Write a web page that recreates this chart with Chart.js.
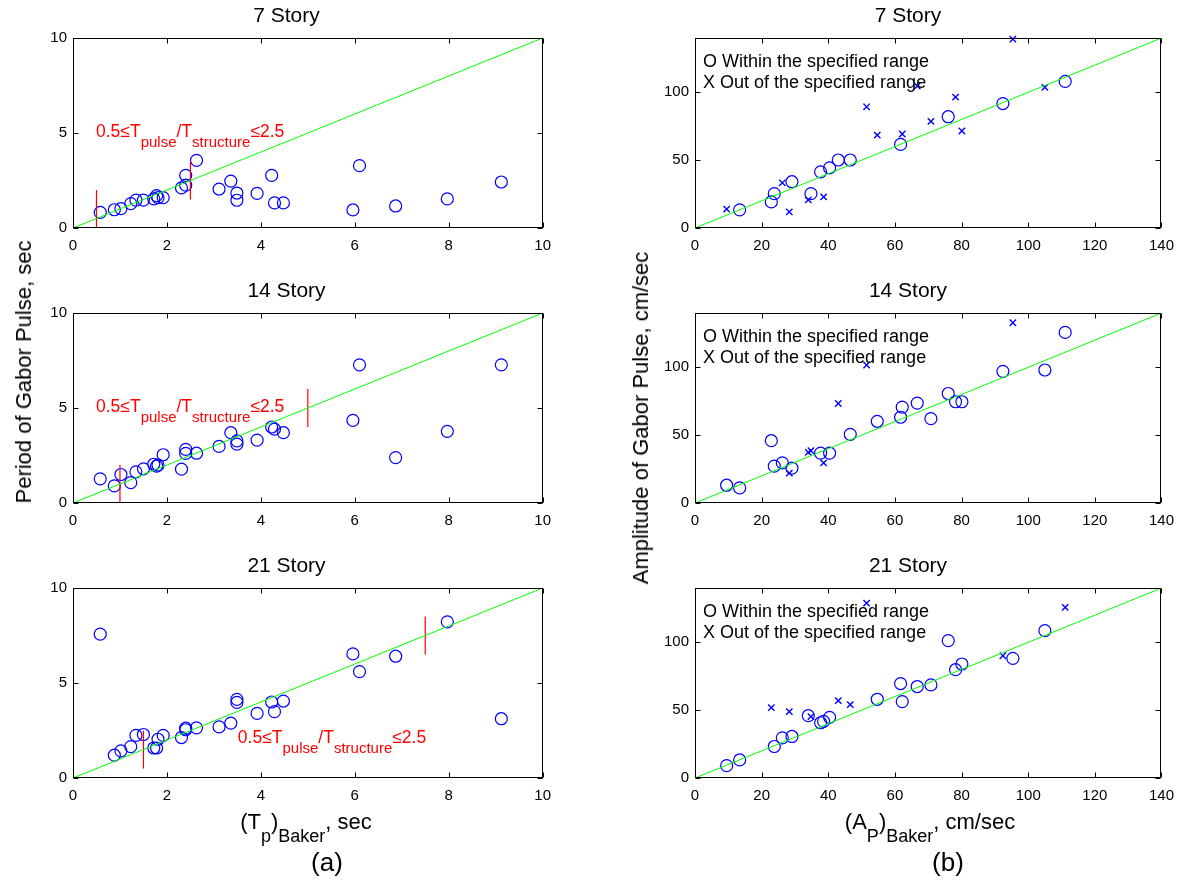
<!DOCTYPE html>
<html>
<head>
<meta charset="utf-8">
<script src="https://cdn.jsdelivr.net/npm/chart.js@4.4.1/dist/chart.umd.min.js"></script>
<style>
  body { margin: 0; background: #fff; width: 1186px; height: 882px; position: relative; overflow: hidden;
         font-family: "Liberation Sans", Arial, sans-serif; color: #000; }
  canvas { position: absolute; }
  .lbl { position: absolute; white-space: nowrap; line-height: 1; }
  .lbl .sb { position: relative; }
</style>
</head>
<body>
<canvas id="c7a" width="532" height="260" style="left:28px;top:0px"></canvas>
<canvas id="c14a" width="532" height="260" style="left:28px;top:275px"></canvas>
<canvas id="c21a" width="532" height="260" style="left:28px;top:550px"></canvas>
<canvas id="c7b" width="535" height="260" style="left:648px;top:0px"></canvas>
<canvas id="c14b" width="535" height="260" style="left:648px;top:275px"></canvas>
<canvas id="c21b" width="535" height="260" style="left:648px;top:550px"></canvas>

<div class="lbl" id="ylA" style="font-size:22px;left:24px;top:372px;transform:translate(-50%,-50%) rotate(-90deg)">Period of Gabor Pulse, sec</div>
<div class="lbl" id="ylB" style="font-size:22px;left:641px;top:418px;transform:translate(-50%,-50%) rotate(-90deg)">Amplitude of Gabor Pulse, cm/sec</div>
<div class="lbl" style="font-size:22px;left:306px;top:811px;transform:translateX(-50%)">(T<span class="sb" style="font-size:18px;top:13px">p</span>)<span class="sb" style="font-size:18px;top:13px">Baker</span>, sec</div>
<div class="lbl" style="font-size:22px;left:930px;top:811px;transform:translateX(-50%)">(A<span class="sb" style="font-size:18px;top:13px">P</span>)<span class="sb" style="font-size:18px;top:13px">Baker</span>, cm/sec</div>
<div class="lbl" style="font-size:26px;left:327px;top:849px;transform:translateX(-50%)">(a)</div>
<div class="lbl" style="font-size:26px;left:948px;top:849px;transform:translateX(-50%)">(b)</div>

<script>
// Baker pulse period vs. Gabor pulse period, sec (same 27 records for each building)
const tpBaker = [0.58, 0.88, 1.02, 1.23, 1.34, 1.50, 1.72, 1.78, 1.81, 1.92, 2.31, 2.40, 2.40, 2.63,
  3.11, 3.36, 3.49, 3.49, 3.92, 4.23, 4.29, 4.48, 5.96, 6.10, 6.87, 7.97, 9.12];
const tGabor7 = [0.82, 0.96, 1.02, 1.28, 1.47, 1.47, 1.53, 1.70, 1.60, 1.60, 2.11, 2.26, 2.77, 3.56,
  2.05, 2.47, 1.84, 1.46, 1.82, 2.77, 1.32, 1.32, 0.95, 3.28, 1.16, 1.53, 2.42];
const tGabor14 = [1.27, 0.90, 1.50, 1.07, 1.64, 1.80, 2.04, 1.94, 2.00, 2.54, 1.78, 2.82, 2.61, 2.62,
  2.98, 3.70, 3.27, 3.10, 3.31, 4.00, 3.89, 3.70, 4.35, 7.27, 2.39, 3.77, 7.27];
const tGabor21 = [7.57, 1.20, 1.43, 1.65, 2.24, 2.29, 1.58, 1.58, 2.04, 2.24, 2.13, 2.62, 2.54, 2.64,
  2.69, 2.89, 4.14, 3.98, 3.40, 4.00, 3.49, 4.05, 6.53, 5.60, 6.41, 8.22, 3.12];

// red bars at T = 0.5*Tstructure and 2.5*Tstructure
const limitT7 = [0.5, 2.5], limitLo7 = [0, 1.5], limitHi7 = [2.0, 3.5];
const limitT14 = [1.0, 5.0], limitLo14 = [0, 4.0], limitHi14 = [2.0, 6.0];
const limitT21 = [1.5, 7.5], limitLo21 = [0.5, 6.5], limitHi21 = [2.5, 8.5];

// Baker pulse amplitude vs. Gabor pulse amplitude, cm/sec
const apBaker = [9.5, 13.4, 22.9, 23.8, 26.2, 28.3, 29.1, 34.0, 34.8, 37.7, 38.6, 40.4, 43.0, 46.6,
  51.5, 54.7, 61.7, 62.2, 66.7, 70.8, 76.0, 78.2, 80.1, 92.4, 95.4, 105.0, 111.1];
const aGabor7 = [13.9, 13.4, 19.2, 25.3, 33.3, 11.9, 34.1, 20.7, 25.3, 41.4, 22.9, 44.3, 50.1, 50.1,
  89.3, 68.4, 61.6, 69.3, 104.6, 78.6, 82.0, 96.4, 71.5, 91.7, 139.2, 103.6, 108.0];
const aGabor14 = [13.1, 11.1, 45.9, 27.2, 29.6, 22.0, 25.7, 37.3, 38.5, 36.8, 29.6, 36.8, 73.3, 50.6,
  101.7, 60.2, 63.2, 70.6, 73.6, 62.2, 80.7, 74.6, 74.6, 97.0, 132.8, 98.0, 125.7];
const aGabor21 = [9.1, 13.3, 51.9, 23.2, 29.6, 48.9, 30.6, 45.9, 45.2, 40.7, 41.7, 44.7, 57.0, 54.1,
  128.9, 58.0, 69.6, 56.3, 67.4, 68.6, 101.2, 79.8, 84.0, 90.1, 88.1, 108.6, 125.7];
// 1 = period ratio inside 0.5..2.5 (circle), 0 = outside (x)
const inRange7 = [0, 1, 1, 1, 0, 0, 1, 0, 1, 1, 0, 1, 1, 1, 0, 0, 1, 0, 0, 0, 1, 0, 0, 1, 0, 0, 1];
const inRange14 = [1, 1, 1, 1, 1, 0, 1, 0, 0, 1, 0, 1, 0, 1, 0, 1, 1, 1, 1, 1, 1, 1, 1, 1, 0, 1, 1];
const inRange21 = [1, 1, 0, 1, 1, 0, 1, 1, 0, 1, 1, 1, 0, 0, 0, 1, 1, 1, 1, 1, 1, 1, 1, 0, 1, 1, 0];

const periodTicksX = [0, 2, 4, 6, 8, 10];
const periodTicksY = [0, 5, 10];
const ampTicksX = [0, 20, 40, 60, 80, 100, 120, 140];
const ampTicksY = [0, 50, 100];

const FONT = '"Liberation Sans", Arial, sans-serif';
const BLUE = '#0000ff', GREEN = '#00ff00', RED = '#ff0000';

// matlab-like box with inward ticks on all four sides, plus text notes
const framePlugin = {
  id: 'frame',
  afterDatasetsDraw(chart, args, opts) {
    const { ctx, chartArea: a, scales } = chart;
    const L = Math.round(a.left) + 0.5, R = Math.round(a.right) - 0.5;
    const T = Math.round(a.top) + 0.5, B = Math.round(a.bottom) - 0.5;
    ctx.save();
    ctx.strokeStyle = '#000';
    ctx.lineWidth = 1;
    ctx.strokeRect(L, T, R - L, B - T);
    ctx.beginPath();
    scales.x.ticks.forEach((t) => {
      const px = Math.round(scales.x.getPixelForValue(t.value)) + 0.5;
      ctx.moveTo(px, B); ctx.lineTo(px, B - 5);
      ctx.moveTo(px, T); ctx.lineTo(px, T + 5);
    });
    scales.y.ticks.forEach((t) => {
      const py = Math.round(scales.y.getPixelForValue(t.value)) + 0.5;
      ctx.moveTo(L, py); ctx.lineTo(L + 5, py);
      ctx.moveTo(R, py); ctx.lineTo(R - 5, py);
    });
    ctx.stroke();

    // ratio note, red, with subscripts
    if (opts.note) {
      const n = opts.note;
      let x = scales.x.getPixelForValue(n.x);
      const y = scales.y.getPixelForValue(n.y);
      ctx.fillStyle = RED;
      ctx.textBaseline = 'alphabetic';
      ctx.textAlign = 'left';
      n.parts.forEach(([txt, sub]) => {
        ctx.font = (sub ? '15px ' : '17.5px ') + FONT;
        ctx.fillText(txt, x, sub ? y + 10 : y);
        x += ctx.measureText(txt).width;
      });
    }
    if (opts.lines) {
      ctx.fillStyle = '#000';
      ctx.font = '18px ' + FONT;
      ctx.textBaseline = 'middle';
      ctx.textAlign = 'left';
      opts.lines.forEach((txt, i) => ctx.fillText(txt, a.left + 8, a.top + 24 + i * 21));
    }
    ctx.restore();
  },
};

function pts(xs, ys, keep) {
  const out = [];
  xs.forEach((x, i) => { if (!keep || keep(i)) out.push({ x: x, y: ys[i] }); });
  return out;
}

function axis(min, max, ticks, size) {
  return {
    type: 'linear',
    min: min,
    max: max,
    grid: { display: false, drawTicks: false },
    border: { display: false },
    ticks: { color: '#000', font: { size: 15, family: FONT }, padding: size.pad, autoSkip: false, maxRotation: 0 },
    afterBuildTicks: (s) => { s.ticks = ticks.map((v) => ({ value: v })); },
    afterFit: (s) => { if (size.h) s.height = size.h; if (size.w) s.width = size.w; },
  };
}

function makeChart(id, title, datasets, xr, yr, yw, frameOpts) {
  return new Chart(document.getElementById(id), {
    type: 'scatter',
    data: { datasets: datasets },
    options: {
      responsive: false,
      animation: false,
      events: [],
      layout: { padding: { left: 0, right: 15, top: 0, bottom: 0 } },
      scales: {
        x: axis(xr[0], xr[1], xr[2], { h: 32, pad: 9 }),
        y: axis(yr[0], yr[1], yr[2], { w: yw, pad: 6 }),
      },
      plugins: {
        legend: { display: false },
        tooltip: { enabled: false },
        title: {
          display: true,
          text: title,
          color: '#000',
          font: { size: 21, family: FONT, weight: 'normal' },
          padding: { top: 4, bottom: 8.8 },
        },
        frame: frameOpts,
      },
    },
    plugins: [framePlugin],
  });
}

function diagonal(max) {
  return { data: [{ x: 0, y: 0 }, { x: max, y: max }], showLine: true, borderColor: GREEN, borderWidth: 1, pointRadius: 0 };
}

function circles(data) {
  return { data: data, pointStyle: 'circle', pointRadius: 6, borderColor: BLUE, backgroundColor: 'rgba(0,0,0,0)', borderWidth: 1.2, clip: false };
}

function crosses(data) {
  return { data: data, pointStyle: 'crossRot', pointRadius: 4.5, borderColor: BLUE, borderWidth: 1.4, clip: false };
}

const noteParts = [['0.5\u2264T', false], ['pulse', true], ['/T', false], ['structure', true], ['\u22642.5', false]];

function periodPanel(id, title, tGabor, lx, lo, hi, notePos) {
  const sets = [diagonal(10)];
  lx.forEach((x, i) => {
    sets.push({ data: [{ x: x, y: lo[i] }, { x: x, y: hi[i] }], showLine: true, borderColor: RED, borderWidth: 1.2, pointRadius: 0 });
  });
  sets.push(circles(pts(tpBaker, tGabor)));
  makeChart(id, title, sets, [0, 10, periodTicksX], [0, 10, periodTicksY], 45,
    { note: { x: notePos[0], y: notePos[1], parts: noteParts } });
}

const rangeLines = ['O Within the specified range', 'X Out of the specified range'];

function ampPanel(id, title, aGabor, inRange) {
  const sets = [
    diagonal(140),
    circles(pts(apBaker, aGabor, (i) => inRange[i] === 1)),
    crosses(pts(apBaker, aGabor, (i) => inRange[i] === 0)),
  ];
  makeChart(id, title, sets, [0, 140, ampTicksX], [0, 140, ampTicksY], 47, { lines: rangeLines });
}

periodPanel('c7a', '7 Story', tGabor7, limitT7, limitLo7, limitHi7, [0.49, 4.79]);
periodPanel('c14a', '14 Story', tGabor14, limitT14, limitLo14, limitHi14, [0.49, 4.8]);
periodPanel('c21a', '21 Story', tGabor21, limitT21, limitLo21, limitHi21, [3.51, 1.83]);

ampPanel('c7b', '7 Story', aGabor7, inRange7);
ampPanel('c14b', '14 Story', aGabor14, inRange14);
ampPanel('c21b', '21 Story', aGabor21, inRange21);
</script>
</body>
</html>
